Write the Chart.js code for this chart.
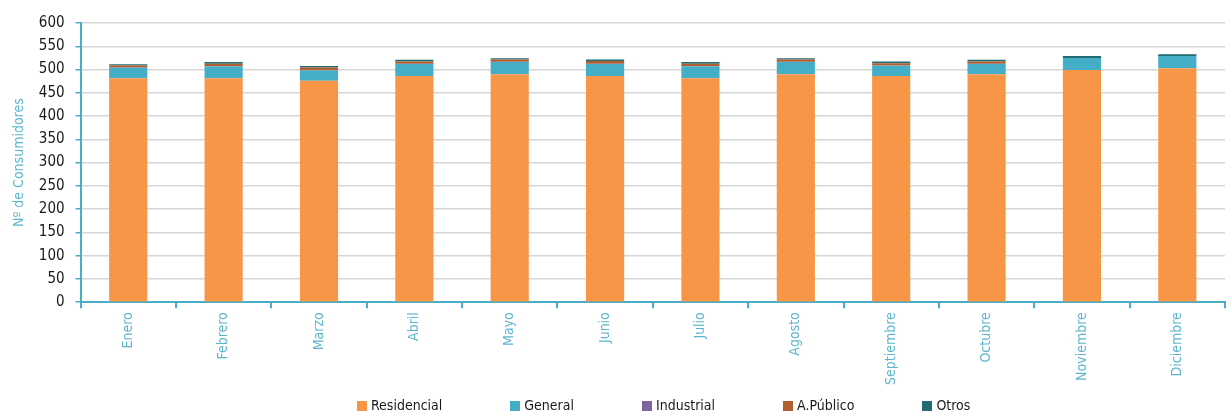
<!DOCTYPE html>
<html>
<head>
<meta charset="utf-8">
<script src="https://cdn.jsdelivr.net/npm/chart.js@4"></script>
<style>
  body { margin: 0; background: #fff; }
  .wrap { position: relative; width: 1229px; height: 414px; }
  .legend {
    position: absolute; left: 357px; top: 397px;
    display: flex; gap: 68px; align-items: center;
    font-family: "DejaVu Sans Condensed", "DejaVu Sans", sans-serif;
    font-size: 14px; color: #1a1a1a; line-height: 16px;
  }
  .legend span.box { display: inline-block; width: 10px; height: 10px; margin-right: 4px; vertical-align: -1px; }
</style>
</head>
<body>
<div class="wrap">
  <canvas class="my-chart"></canvas>
  <div class="legend"></div>
</div>
<script>
const months = ["Enero", "Febrero", "Marzo", "Abril", "Mayo", "Junio", "Julio", "Agosto", "Septiembre", "Octubre", "Noviembre", "Diciembre"];
const residencial = [481, 481, 476, 486, 490, 486, 481, 490, 486, 490, 499, 503];
const general = [23, 26, 22, 26, 26, 26, 26, 26, 22, 22, 26, 26];
const industrial = [0.5, 0.5, 0.5, 0.5, 0.5, 0.5, 0.5, 0.5, 0.5, 0.5, 0, 0];
const aPublico = [4, 5, 6, 5, 5, 6, 5, 5, 5, 5, 0, 0];
const otros = [3, 3.5, 3, 3.5, 3, 3, 3.5, 3, 3.5, 3.5, 4, 4];
const yTicks = { min: 0, max: 600, step: 50 };

const teal = '#4BACC6';
const font = '"DejaVu Sans Condensed", "DejaVu Sans", sans-serif';

const series = [
    { label: "Residencial", data: residencial, color: '#F79646' },
    { label: "General", data: general, color: '#43AEC6' },
    { label: "Industrial", data: industrial, color: '#8064A2' },
    { label: "A.Público", data: aPublico, color: '#B0602E' },
    { label: "Otros", data: otros, color: '#236C76' }
];

new Chart(document.querySelector(".my-chart"), {
    type: "bar",
    data: {
        labels: months,
        datasets: series.map(s => ({
            label: s.label,
            data: s.data,
            backgroundColor: s.color,
            borderWidth: 0,
            categoryPercentage: 1,
            barPercentage: 0.4
        }))
    },
    options: {
        responsive: true,
        maintainAspectRatio: false,
        animation: false,
        layout: { padding: { top: 23, right: 4, left: 11, bottom: 25 } },
        scales: {
            x: {
                stacked: true,
                border: { color: teal, width: 2 },
                grid: {
                    offset: true,
                    drawOnChartArea: false,
                    tickColor: teal,
                    tickLength: 6,
                    lineWidth: 2
                },
                ticks: {
                    color: '#5BB6CD',
                    font: { family: font, size: 14 },
                    minRotation: 90,
                    maxRotation: 90,
                    autoSkip: false,
                    padding: 4
                }
            },
            y: {
                stacked: true,
                min: yTicks.min,
                max: yTicks.max,
                border: { color: teal, width: 2 },
                grid: {
                    color: '#D6D6D6',
                    lineWidth: 1.5,
                    tickColor: teal,
                    tickLength: 5
                },
                ticks: {
                    stepSize: yTicks.step,
                    autoSkip: false,
                    color: '#1a1a1a',
                    font: { family: font, size: 15 },
                    padding: 11
                },
                title: {
                    display: true,
                    text: "Nº de Consumidores",
                    color: '#5BB6CD',
                    font: { family: font, size: 14 },
                    padding: { top: 0, bottom: 0 }
                }
            }
        },
        plugins: {
            legend: { display: false },
            tooltip: { enabled: false }
        }
    }
});

const legend = document.querySelector(".legend");
series.forEach(s => {
    const item = document.createElement("div");
    item.innerHTML = `<span class="box" style="background:${s.color}"></span>${s.label}`;
    legend.appendChild(item);
});
</script>
</body>
</html>
